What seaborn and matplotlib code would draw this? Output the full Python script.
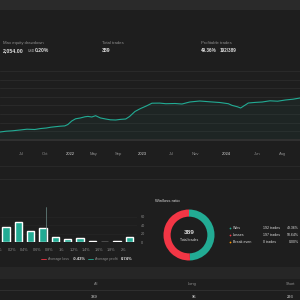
import numpy as np
import matplotlib
matplotlib.use("Agg")
import matplotlib.pyplot as plt
from matplotlib.patches import Rectangle
import seaborn as sns

# equity curve (trade number -> net profit, thousands USD)
trade_no = [0, 8, 16, 26, 35, 45, 52, 60, 66, 72, 78, 84, 88, 93, 98, 104, 110, 114,
            119, 124, 130, 137, 143, 150, 156, 163, 168, 175, 182, 190, 197, 207, 215,
            227, 236, 246, 259, 272, 285, 296, 301, 308, 312, 322, 331, 340, 350, 360,
            370, 380, 389]
net_profit = [0, 0.8, 1.2, 2.0, 2.8, 2.5, 3.4, 4.0, 4.8, 5.3, 5.8, 6.1, 7.5, 11.0,
              13.2, 14.0, 15.2, 15.6, 15.0, 16.3, 14.1, 13.0, 12.2, 12.0, 12.6, 13.0,
              15.5, 20.5, 23.4, 26.1, 28.8, 28.9, 28.3, 28.5, 28.0, 30.0, 31.0, 30.2,
              29.5, 28.3, 26.6, 25.2, 24.0, 29.0, 29.6, 30.0, 31.2, 30.8, 32.0, 32.8,
              34.0]
date_labels = ["Jul", "Oct", "2022", "May", "Sep", "2023", "Jul", "Nov", "2024", "Jun", "Aug"]
date_ticks = [28.5, 58, 91, 121, 153, 184, 223, 253, 294, 333, 366]

# profit distribution (winning trades per 0.2% bin)
profit_counts = [36, 48, 27, 34, 12, 8, 10, 2, 1, 2, 12]
bin_edges = ["0%", "0.2%", "0.4%", "0.6%", "0.8%", "1%", "1.2%", "1.4%", "1.6%", "1.8%", "2%"]
avg_loss = -0.43
avg_profit = 0.74

# win / loss
outcome = ["Wins", "Losses", "Break even"]
outcome_trades = [192, 197, 0]
total_trades = 389

teal = "#22ab94"
red = "#f23645"
orange = "#ff9800"
bg = "#1e1e1e"
grid = "#2c2c2c"
gray = "#8d8d8d"
white = "#dcdcdc"

sns.set_theme(style="dark")
plt.rcParams["font.family"] = ["Liberation Sans", "DejaVu Sans"]

fig = plt.figure(figsize=(3, 3), dpi=100, facecolor=bg)


def ax_px(x0, y0, x1, y1):
    return fig.add_axes([x0 / 300, 1 - y1 / 300, (x1 - x0) / 300, (y1 - y0) / 300])


ov = ax_px(0, 0, 300, 300)
ov.set_xlim(0, 300)
ov.set_ylim(300, 0)
ov.axis("off")
ov.set_zorder(0)

# backgrounds
ov.add_patch(Rectangle((0, 0), 300, 10, color="#2a2a2a", lw=0))
ov.add_patch(Rectangle((0, 139), 300, 2, color="#303030", lw=0))
ov.add_patch(Rectangle((0, 166), 300, 1, color="#282828", lw=0))
ov.add_patch(Rectangle((0, 179), 300, 1.2, color="#2a2a2a", lw=0))
ov.add_patch(Rectangle((0, 267), 300, 12, color="#262626", lw=0))
ov.add_patch(Rectangle((0, 290), 300, 1, color="#2e2e2e", lw=0))

# stats header
def stat(x, title, parts):
    ov.text(x, 43, title, color=gray, fontsize=3.1, va="center")
    cx = x
    for s, size, col, w in parts:
        ov.text(cx, 50.5, s, color=col, fontsize=size, va="center", fontweight="bold")
        cx += w


stat(3, "Max equity drawdown", [("2,054.00", 3.8, white, 25), ("USD", 2.4, gray, 6.5), ("0.20%", 3.6, white, 0)])
stat(102, "Total trades", [("389", 3.8, white, 0)])
stat(201, "Profitable trades", [("49.36%", 3.3, white, 19), ("192/389", 3.3, white, 0)])

# equity chart
ax = ax_px(0, 66, 300, 139)
ax.set_facecolor("none")
ax.set_zorder(1)
sns.lineplot(x=trade_no, y=net_profit, ax=ax, color=teal, linewidth=0.8)
ax.fill_between(trade_no, net_profit, -8, color=teal, alpha=0.05, lw=0)
ax.set_xlim(0, 389)
ax.set_ylim(-7, 66)
ax.set_yticks(np.arange(61, -7, -8.6))
ax.yaxis.grid(True, color=grid, lw=0.6)
ax.xaxis.grid(False)
ax.set_yticklabels([])
ax.tick_params(axis="y", length=0)
ax.set_xticks(date_ticks)
ax.set_xticklabels(date_labels)
for lbl in ax.get_xticklabels():
    lbl.set_color(white if lbl.get_text().isdigit() else gray)
ax.tick_params(axis="x", length=0, pad=9.5, labelsize=3.0)
for sp in ax.spines.values():
    sp.set_visible(False)

# profit distribution
hx = ax_px(0, 205, 137, 242)
hx.set_facecolor("none")
hx.set_zorder(1)
sns.barplot(x=list(range(len(profit_counts))), y=profit_counts, ax=hx, color=teal,
            width=0.6, saturation=1)
hx.set_xlim(-0.24, 10.63)
hx.set_ylim(0, 88)
hx.axvline(avg_profit / 0.2 - 0.5, ymax=0.95, color="#6f8f8a", lw=0.5)
hx.set_xticks(np.arange(len(bin_edges)) - 0.5)
hx.set_xticklabels(bin_edges)
hx.yaxis.tick_right()
hx.set_yticks([0, 20, 40, 60])
hx.yaxis.grid(True, color="#262626", lw=0.5)
hx.tick_params(axis="both", length=0, labelsize=2.7, labelcolor=gray)
hx.tick_params(axis="x", pad=4)
hx.tick_params(axis="y", pad=3)
hx.set_xlabel("")
hx.set_ylabel("")
for sp in hx.spines.values():
    sp.set_visible(False)

ov.plot([41, 45.5], [259, 259], color=red, lw=0.6)
ov.text(48, 259, "Average loss", color=gray, fontsize=2.6, va="center")
ov.text(72.5, 259, f"{avg_loss:.2f}%", color=white, fontsize=3.0, va="center", fontweight="bold")
ov.plot([88, 92.5], [259, 259], color=teal, lw=0.6)
ov.text(95, 259, "Average profit", color=gray, fontsize=2.6, va="center")
ov.text(121, 259, f"{avg_profit:.2f}%", color=white, fontsize=3.0, va="center", fontweight="bold")

# win/loss donut
ov.text(155, 201.5, "Win/loss ratio", color=white, fontsize=3.0, va="center")
dx = ax_px(163.5, 209.5, 214.5, 260.5)
dx.set_zorder(1)
vals = [v for v in outcome_trades if v > 0]
cols = [c for c, v in zip([teal, red, orange], outcome_trades) if v > 0]
dx.pie(vals, colors=cols, startangle=90, counterclock=False, radius=1,
       wedgeprops=dict(width=0.28, lw=0))
dx.set_xlim(-1, 1)
dx.set_ylim(-1, 1)
dx.text(0, 0.1, str(total_trades), color=white, fontsize=4.6, ha="center", va="center", fontweight="bold")
dx.text(0, -0.2, "Total trades", color=white, fontsize=2.5, ha="center", va="center")

for i, (name, n, c) in enumerate(zip(outcome, outcome_trades, [teal, red, orange])):
    y = 228 + 7 * i
    ov.scatter([229.5], [y], s=1.6, color=c, lw=0)
    ov.text(233, y, name, color=white, fontsize=2.6, va="center")
    ov.text(263, y, f"{n} trades", color=white, fontsize=2.6, va="center")
    ov.text(299, y, f"{100 * n / total_trades:.2f}%", color=white, fontsize=2.5, va="center", ha="right")

# summary table
for x, head, val in [(98.5, "All", "389"), (197, "Long", "96"), (295, "Short", "293")]:
    ov.text(x, 284, head, color=gray, fontsize=2.9, va="center", ha="right")
    ov.text(x - 1, 297, val, color=white, fontsize=2.9, va="center", ha="right")

fig.savefig("out.png", dpi=100, facecolor=bg)
